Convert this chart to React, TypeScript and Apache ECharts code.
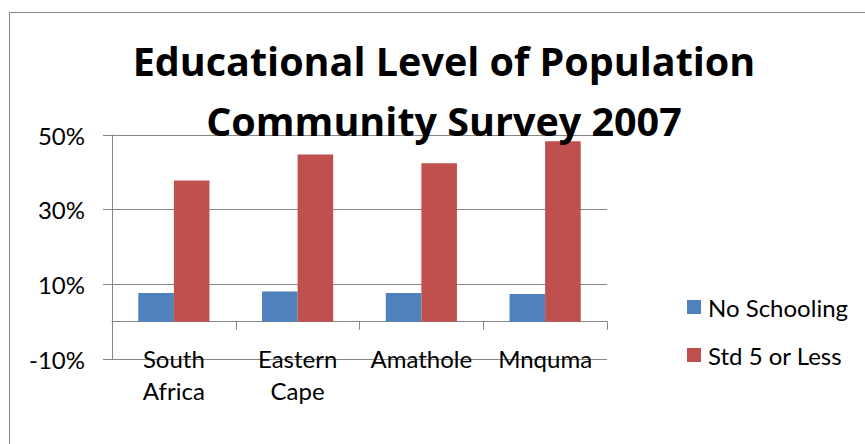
import React, { useEffect, useRef } from "react";
import * as echarts from "echarts";

const categories = ["South Africa", "Eastern Cape", "Amathole", "Mnquma"];
const noSchooling = [7.7, 8.1, 7.7, 7.4];
const std5OrLess = [37.8, 44.8, 42.4, 48.3];
const seriesNames = ["No Schooling", "Std 5 or Less"];
const titleLines = ["Educational Level of Population", "Community Survey 2007"];
const yMin = -10;
const yMax = 50;
const yInterval = 20;

export default function App() {
  const ref = useRef<HTMLDivElement>(null);
  useEffect(() => {
    if (!ref.current) return;
    const chart = echarts.init(ref.current, null, { renderer: "svg" });
    const grey = "#868686";
    const font = "Lato, 'Open Sans', sans-serif";
    chart.setOption({
      animation: false,
      backgroundColor: "#ffffff",
      title: {
        text: titleLines.join("\n"),
        left: 444,
        top: 31,
        padding: 0,
        textAlign: "center",
        textStyle: {
          fontFamily: "'Open Sans', sans-serif",
          fontWeight: "bold",
          fontSize: 39.5,
          lineHeight: 60,
          color: "#000000",
        },
      },
      graphic: [
        {
          type: "rect",
          shape: { x: 9.5, y: 12.5, width: 900, height: 500 },
          style: { fill: "none", stroke: grey, lineWidth: 1 },
          silent: true,
          z: -1,
        },
      ],
      legend: {
        orient: "vertical",
        left: 687,
        top: 293,
        padding: 0,
        itemWidth: 14,
        itemHeight: 14,
        itemGap: 20,
        icon: "rect",
        textStyle: {
          fontFamily: font,
          fontSize: 24,
          lineHeight: 28,
          color: "#000000",
          padding: [0, 0, 0, 2],
        },
        data: seriesNames,
      },
      grid: {
        left: 112,
        right: 258,
        top: 135,
        bottom: 85,
        containLabel: false,
      },
      xAxis: {
        type: "category",
        data: categories,
        axisLine: { show: true, onZero: true, lineStyle: { color: grey, width: 1 } },
        axisTick: { show: true, length: 8, alignWithLabel: false, lineStyle: { color: grey } },
        axisLabel: {
          margin: -17,
          fontFamily: font,
          fontSize: 24,
          lineHeight: 32,
          color: "#000000",
          interval: 0,
          formatter: (v: string) => v.replace(" ", "\n"),
        },
        splitLine: { show: false },
      },
      yAxis: {
        type: "value",
        min: yMin,
        max: yMax,
        interval: yInterval,
        axisLine: { show: true, lineStyle: { color: grey, width: 1 } },
        axisTick: { show: true, length: 9, lineStyle: { color: grey } },
        axisLabel: {
          margin: 27,
          fontFamily: font,
          fontSize: 24,
          color: "#000000",
          formatter: "{value}%",
        },
        splitLine: { show: true, lineStyle: { color: grey, width: 1 } },
      },
      series: [
        {
          name: seriesNames[0],
          type: "bar",
          data: noSchooling,
          barGap: "0%",
          barCategoryGap: "42.5%",
          itemStyle: { color: "#4F81BD" },
        },
        {
          name: seriesNames[1],
          type: "bar",
          data: std5OrLess,
          barGap: "0%",
          barCategoryGap: "42.5%",
          itemStyle: { color: "#C0504D" },
        },
      ],
    });
    return () => chart.dispose();
  }, []);
  return (
    <div
      ref={ref}
      style={{ position: "absolute", left: 0, top: 0, width: 865, height: 444 }}
    />
  );
}
